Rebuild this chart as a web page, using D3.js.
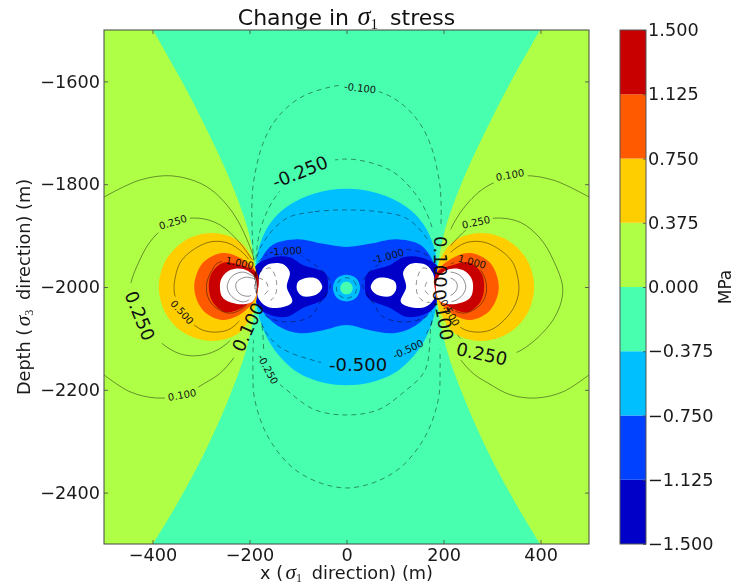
<!DOCTYPE html>
<html lang="en">
<head>
<meta charset="UTF-8">
<title>Change in sigma 1 stress</title>
<script src="https://cdn.jsdelivr.net/npm/d3@7"></script>
<style>
    body { margin: 0; background: #fff; }
    svg { display: block; font-family: "DejaVu Sans", sans-serif; filter: blur(0.45px); }
    .math { font-family: "Liberation Serif", serif; font-style: italic; }
    .axis text { font-family: "DejaVu Sans", sans-serif; font-size: 17.7px; fill: #1a1a1a; }
    .axis path { display: none; }
    .axis line { stroke: #444; stroke-width: 0.8; }
</style>
</head>
<body>
<svg id="chart" width="748" height="585"></svg>
<script>
// axis ticks
var xTicks = [-400, -200, 0, 200, 400];
var yTicks = [-2400, -2200, -2000, -1800, -1600];
var levels = [-1.5, -1.125, -0.75, -0.375, 0, 0.375, 0.75, 1.125, 1.5];
var levelColors = ["#0000c8", "#0040ff", "#00bfff", "#47ffaf", "#afff47", "#ffce00", "#ff5a00", "#c80000"];

// filled bands (x m, depth m), left half only where the field is symmetric
var zeroEdge = [[-399, -1500], [-341, -1597], [-288, -1694], [-240, -1792], [-203, -1889], [-189, -1957], [-186, -2000], [-189, -2045], [-207, -2123], [-244, -2220], [-290, -2317], [-345, -2415], [-399, -2500]];
var cyanHalf = [[0, -1809], [-69, -1819], [-123, -1844], [-158, -1877], [-181, -1924], [-187, -1967], [-187, -2025], [-175, -2074], [-148, -2123], [-101, -2166], [-45, -2187], [0, -2191]];
var blueHalf = [[0, -1922], [-48, -1916], [-102, -1907], [-152, -1918], [-178, -1950], [-187, -2000], [-174, -2045], [-137, -2078], [-96, -2090], [-48, -2084], [0, -2074]];
var darkBlueLobe = [[-189, -1961], [-152, -1942], [-117, -1942], [-90, -1957], [-44, -1973], [-38, -1996], [-44, -2021], [-90, -2041], [-123, -2058], [-158, -2054], [-182, -2039], [-189, -2006]];
var whiteLobe = [[-178, -1973], [-164, -1957], [-133, -1955], [-117, -1971], [-123, -2000], [-112, -2029], [-131, -2039], [-162, -2039], [-182, -2021], [-182, -1992]];
var whiteSmall = [[-100, -1990], [-81, -1982], [-61, -1984], [-50, -2000], [-61, -2014], [-90, -2018], [-102, -2006]];
var ringOuter = [[0, -1976], [20, -1983], [28, -2002], [20, -2021], [0, -2028], [-20, -2021], [-28, -2002], [-20, -1983]];
var ringInner = [[0, -1990], [9, -1993], [13, -2002], [9, -2011], [0, -2014], [-9, -2011], [-13, -2002], [-9, -1993]];
var yellowLobe = [[-187, -1967], [-199, -1936], [-224, -1909], [-277, -1895], [-332, -1909], [-372, -1947], [-387, -2000], [-372, -2053], [-332, -2091], [-277, -2105], [-224, -2091], [-199, -2060], [-185, -2021]];
var orangeLobe = [[-187, -1971], [-213, -1947], [-255, -1934], [-296, -1953], [-314, -2000], [-296, -2045], [-255, -2064], [-213, -2049], [-185, -2016]];
var redLobe = [[-185, -1973], [-220, -1957], [-254, -1953], [-278, -1973], [-284, -2000], [-276, -2029], [-248, -2049], [-213, -2039], [-185, -2012]];
var whiteRight = [[-189, -1981], [-213, -1965], [-240, -1967], [-257, -1982], [-261, -2000], [-255, -2021], [-226, -2033], [-195, -2029], [-185, -2010]];

// contour lines, same coordinates
var pos010 = [[-500, -1825], [-426, -1792], [-358, -1784], [-288, -1805], [-234, -1856], [-199, -1922], [-189, -1953], [-185, -2000], [-199, -2084], [-254, -2162], [-292, -2187], [-339, -2210], [-391, -2216], [-446, -2204], [-500, -2171]];
var pos025 = [[-195, -1947], [-220, -1914], [-261, -1879], [-306, -1866], [-358, -1874], [-399, -1905], [-426, -1947], [-446, -2006], [-426, -2064], [-360, -2123], [-316, -2134], [-267, -2123], [-220, -2084], [-189, -2031]];
var pos050 = [[-193, -1957], [-213, -1934], [-246, -1914], [-288, -1914], [-339, -1947], [-354, -1986], [-354, -2016], [-339, -2049], [-296, -2084], [-246, -2084], [-213, -2058], [-189, -2025]];
var pos100 = [[-189, -1977], [-220, -1953], [-265, -1953], [-277, -1967], [-288, -1992], [-286, -2019], [-271, -2039], [-240, -2051], [-213, -2041], [-189, -2019]];
var pos150 = [[-189, -1981], [-213, -1971], [-236, -1979], [-246, -2000], [-236, -2019], [-213, -2029], [-189, -2019]];
var pos200 = [[-189, -1984], [-209, -1981], [-226, -1990], [-228, -2002], [-219, -2014], [-203, -2018], [-189, -2014]];
var neg010Half = [[0, -1607], [-34, -1611], [-96, -1632], [-143, -1671], [-172, -1720], [-191, -1792], [-195, -1837], [-193, -1928], [-189, -2000], [-193, -2156], [-189, -2220], [-158, -2298], [-96, -2362], [0, -2391]];
var neg025Half = [[0, -1751], [-75, -1766], [-110, -1786], [-151, -1831], [-175, -1880], [-185, -1928], [-187, -2000], [-174, -2078], [-162, -2162], [-116, -2206], [-65, -2239], [0, -2249]];
var neg050Half = [[0, -1850], [-69, -1854], [-123, -1866], [-164, -1903], [-185, -1942], [-187, -2000], [-172, -2078], [-137, -2117], [-71, -2142], [0, -2154]];
var neg100Lobe = [[-182, -1951], [-158, -1934], [-117, -1928], [-71, -1953], [-38, -1981], [-34, -2000], [-55, -2031], [-75, -2058], [-123, -2068], [-164, -2058], [-182, -2039]];
var neg150Lobe = [[-182, -1973], [-158, -1963], [-145, -1986], [-147, -2016], [-162, -2029], [-182, -2029]];
var neg200Lobe = [[-182, -1982], [-166, -1990], [-162, -2006], [-174, -2018], [-182, -2019]];
var negRing = [[0, -1982], [15, -1988], [21, -2002], [15, -2016], [0, -2022], [-15, -2016], [-21, -2002], [-15, -1988]];

// contour labels: text, x, depth, angle, big or small
var labelRows = [
    ["0.100", -339, -2210, -10, 0], ["0.250", -358, -1874, -17, 0], ["1.000", -220, -1953, 12, 0],
    ["0.500", -339, -2049, 48, 0], ["0.250", -426, -2056, 68, 1], ["0.100", -203, -2078, -65, 1],
    ["-1.000", -125, -1930, -3, 0], ["-0.100", 28, -1613, 7, 0], ["-0.250", -96, -1776, -22, 1],
    ["-0.250", -162, -2160, 62, 0], ["-0.500", 24, -2150, 0, 1], ["-0.500", 127, -2121, -25, 0],
    ["-1.000", 86, -1940, -15, 0], ["0.100", 337, -1782, -10, 0], ["0.250", 267, -1874, -12, 0],
    ["1.000", 259, -1951, 15, 0], ["0.250", 279, -2130, 12, 1], ["0.100", 193, -1951, 90, 1],
    ["0.100", 199, -2054, 80, 1], ["0.500", 213, -2050, 60, 0]
];

var svg = d3.select("#chart");
var margin = { top: 30, right: 159, bottom: 41, left: 104 },
    width = +svg.attr("width") - margin.left - margin.right,
    height = +svg.attr("height") - margin.top - margin.bottom;

var x = d3.scaleLinear().domain([-500, 500]).range([0, width]);
var y = d3.scaleLinear().domain([-2500, -1500]).range([height, 0]);

var openLine = d3.line().x(function (d) { return x(d[0]); }).y(function (d) { return y(d[1]); }).curve(d3.curveCatmullRom);
var closedLine = d3.line().x(function (d) { return x(d[0]); }).y(function (d) { return y(d[1]); }).curve(d3.curveCatmullRomClosed);

function flip(pts) { return pts.map(function (d) { return [-d[0], d[1]]; }); }
// half outline from centre top to centre bottom -> whole closed outline
function whole(half) { return half.concat(flip(half.slice(1, -1)).reverse()); }

var defs = svg.append("defs");
defs.append("clipPath").attr("id", "plot-clip").append("rect").attr("width", width).attr("height", height);

var g = svg.append("g").attr("transform", "translate(" + margin.left + "," + margin.top + ")");
var fills = g.append("g").attr("clip-path", "url(#plot-clip)");

function lc(v) { return levelColors[levels.indexOf(v)]; }

fills.append("rect").attr("x", x(-500)).attr("y", y(-1500)).attr("width", x(500) - x(-500)).attr("height", y(-2500) - y(-1500)).attr("fill", lc(0));
fills.append("path").attr("fill", lc(-0.375))
    .attr("d", openLine(zeroEdge) + openLine(flip(zeroEdge).reverse()).replace("M", "L") + "Z");

function blob(pts, color) {
    fills.append("path").attr("d", closedLine(pts)).attr("fill", color);
}
function pair(pts, color) {
    blob(pts, color);
    blob(flip(pts), color);
}

blob(whole(cyanHalf), lc(-0.75));
blob(whole(blueHalf), lc(-1.125));
pair(darkBlueLobe, lc(-1.5));
pair(whiteLobe, "#fff");
pair(whiteSmall, "#fff");
blob(ringOuter, lc(-0.75));
blob(ringInner, lc(-0.375));
pair(yellowLobe, lc(0.375));
pair(orangeLobe, lc(0.75));
pair(redLobe, lc(1.125));
pair(whiteRight, "#fff");

// contour labels first so the mask can cut gaps under them
var mask = defs.append("mask").attr("id", "label-gaps").attr("maskUnits", "userSpaceOnUse")
    .attr("x", 0).attr("y", 0).attr("width", width).attr("height", height);
mask.append("rect").attr("width", width).attr("height", height).attr("fill", "#fff");

var lines = g.append("g").attr("clip-path", "url(#plot-clip)").append("g").attr("mask", "url(#label-gaps)")
    .attr("fill", "none").attr("stroke", "#000").attr("stroke-width", 0.8).attr("stroke-opacity", 0.55);

function solid(pts) {
    lines.append("path").attr("d", openLine(pts));
    lines.append("path").attr("d", openLine(flip(pts)));
}
function dashed(d) {
    lines.append("path").attr("d", d).attr("stroke-dasharray", "5,4");
}
[pos010, pos025, pos050, pos100, pos150, pos200].forEach(solid);
[neg010Half, neg025Half, neg050Half].forEach(function (h) { dashed(closedLine(whole(h))); });
[neg100Lobe, neg150Lobe, neg200Lobe].forEach(function (l) {
    dashed(openLine(l));
    dashed(openLine(flip(l)));
});
dashed(closedLine(negRing));

var labelGroup = g.append("g");
labelRows.forEach(function (r) {
    var t = labelGroup.append("text")
        .attr("transform", "translate(" + x(r[1]) + "," + y(r[2]) + ") rotate(" + r[3] + ")")
        .attr("text-anchor", "middle").attr("dy", "0.36em")
        .attr("font-size", r[4] ? 18 : 10).attr("fill", "#111").text(r[0]);
    var box = t.node().getBBox();
    var pad = r[4] ? 8 : 3;
    mask.append("rect")
        .attr("transform", t.attr("transform"))
        .attr("x", box.x - pad).attr("y", box.y).attr("width", box.width + pad * 2).attr("height", box.height)
        .attr("fill", "#000");
});

// axes, ticks pointing inward on all four sides
g.append("g").attr("class", "axis").attr("transform", "translate(0," + height + ")")
    .call(d3.axisBottom(x).tickValues(xTicks).tickSizeInner(-4).tickSizeOuter(0).tickPadding(4).tickFormat(d3.format("d")));
g.append("g").attr("class", "axis").attr("transform", "translate(0,0)")
    .call(d3.axisTop(x).tickValues(xTicks).tickSizeInner(-4).tickSizeOuter(0).tickFormat(""));
g.append("g").attr("class", "axis")
    .call(d3.axisLeft(y).tickValues(yTicks).tickSizeInner(-4).tickSizeOuter(0).tickPadding(4).tickFormat(d3.format("d")));
g.append("g").attr("class", "axis").attr("transform", "translate(" + width + ",0)")
    .call(d3.axisRight(y).tickValues(yTicks).tickSizeInner(-4).tickSizeOuter(0).tickFormat(""));
g.append("rect").attr("width", width).attr("height", height).attr("fill", "none").attr("stroke", "#444").attr("stroke-width", 1);

// title and axis labels
function sigmaText(parent, before, gap, sub, after) {
    parent.append("tspan").text(before);
    parent.append("tspan").attr("class", "math").attr("font-size", "1.2em").attr("dx", gap).text("σ");
    parent.append("tspan").attr("font-family", "Liberation Serif").attr("font-size", "0.68em").attr("dy", "0.25em").text(sub);
    parent.append("tspan").attr("dy", "-0.17em").attr("dx", "0.55em").text(after);
}
var title = svg.append("text").attr("x", margin.left + width / 2).attr("y", 25).attr("text-anchor", "middle").attr("font-size", 22).attr("fill", "#111");
sigmaText(title, "Change in", "0.32em", "1", "stress");
var xLabel = svg.append("text").attr("x", margin.left + width / 2).attr("y", 579).attr("text-anchor", "middle").attr("font-size", 17.7).attr("fill", "#1a1a1a");
sigmaText(xLabel, "x (", "0.12em", "1", "direction) (m)");
var yLabel = svg.append("text").attr("transform", "translate(30," + (margin.top + height / 2) + ") rotate(-90)").attr("text-anchor", "middle").attr("font-size", 17.7).attr("fill", "#1a1a1a");
sigmaText(yLabel, "Depth (", "0.12em", "3", "direction) (m)");

// colorbar
var cb = svg.append("g").attr("transform", "translate(620," + margin.top + ")");
var cbWidth = 26;
var c = d3.scaleLinear().domain([-1.5, 1.5]).range([height, 0]);
cb.selectAll("rect.band").data(levelColors).enter().append("rect")
    .attr("class", "band")
    .attr("y", function (d, i) { return c(levels[i + 1]); })
    .attr("width", cbWidth)
    .attr("height", function (d, i) { return c(levels[i]) - c(levels[i + 1]); })
    .attr("fill", function (d) { return d; });
cb.append("g").attr("class", "axis").attr("transform", "translate(" + cbWidth + ",0)")
    .call(d3.axisRight(c).tickValues(levels).tickSizeInner(-3).tickSizeOuter(0).tickPadding(2).tickFormat(d3.format(".3f")));
cb.append("rect").attr("width", cbWidth).attr("height", height).attr("fill", "none").attr("stroke", "#555").attr("stroke-width", 1);
svg.append("text").attr("transform", "translate(731," + (margin.top + height / 2) + ") rotate(-90)")
    .attr("text-anchor", "middle").attr("font-size", 17).attr("fill", "#1a1a1a").text("MPa");
</script>
</body>
</html>
